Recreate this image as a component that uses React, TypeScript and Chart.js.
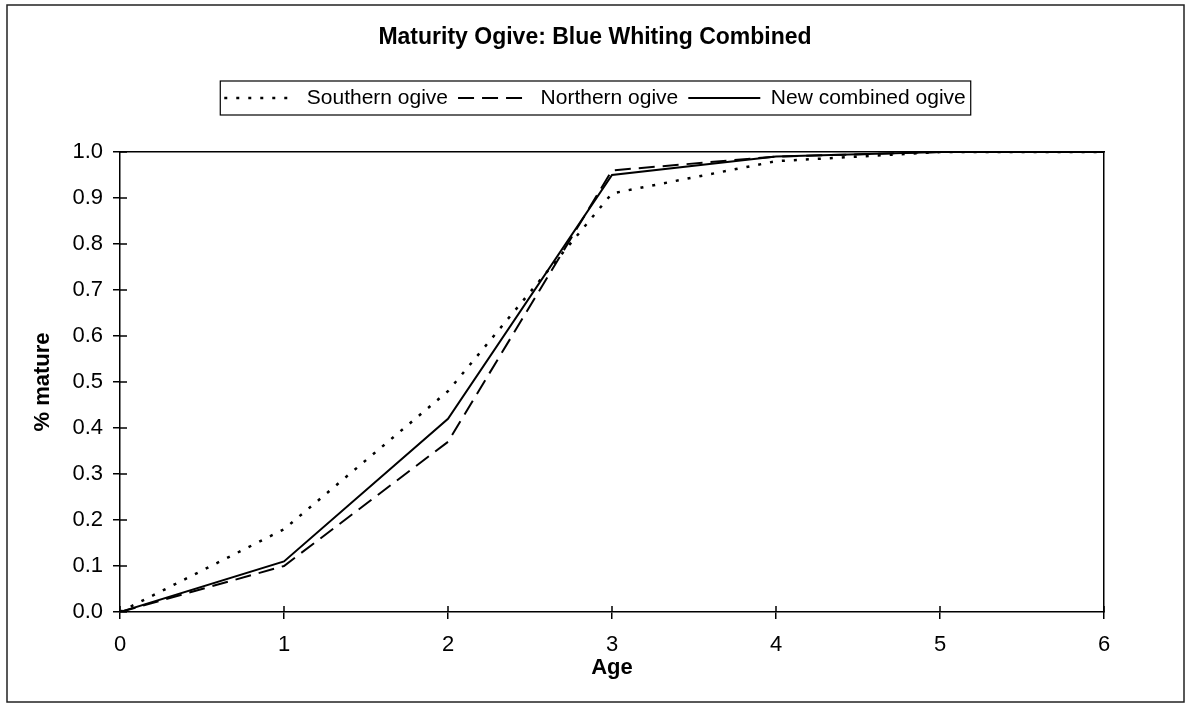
import React, { useEffect, useRef } from "react";
import { Chart, registerables } from "chart.js";

Chart.register(...registerables);

const ages = [0, 1, 2, 3, 4, 5, 6];
const southernOgive = [0, 0.18, 0.48, 0.91, 0.98, 1.0, 1.0];
const northernOgive = [0, 0.1, 0.37, 0.96, 0.99, 1.0, 1.0];
const combinedOgive = [0, 0.11, 0.42, 0.95, 0.99, 1.0, 1.0];
const seriesLabels = ["Southern ogive", "Northern ogive", "New combined ogive"];
const titleText = "Maturity Ogive: Blue Whiting Combined";
const xTitle = "Age";
const yTitle = "% mature";

const FONT = '"Liberation Sans", Arial, Helvetica, sans-serif';

const toPoints = (vals: number[]) => ages.map((a, i) => ({ x: a, y: vals[i] }));

const framePlugin = {
  id: "frame",
  afterDraw(chart: any) {
    const ctx = chart.ctx;
    ctx.save();
    // outer border
    ctx.strokeStyle = "#222";
    ctx.lineWidth = 1.5;
    ctx.setLineDash([]);
    ctx.strokeRect(7, 5, 1177, 697);
    // legend box
    const hb = chart.legend && chart.legend.legendHitBoxes;
    if (hb && hb.length) {
      let l = Infinity, r = -Infinity, t = Infinity, b = -Infinity;
      hb.forEach((h: any) => {
        l = Math.min(l, h.left);
        r = Math.max(r, h.left + h.width);
        t = Math.min(t, h.top);
        b = Math.max(b, h.top + h.height);
      });
      ctx.strokeStyle = "#000";
      ctx.lineWidth = 1.2;
      ctx.strokeRect(l - 4, t - 6.5, r - l + 9, b - t + 13);
    }
    // inner cross ticks
    const xs = chart.scales.x;
    const ys = chart.scales.y;
    const area = chart.chartArea;
    ctx.strokeStyle = "#000";
    ctx.lineWidth = 1.5;
    ctx.beginPath();
    xs.ticks.forEach((tk: any) => {
      const px = xs.getPixelForValue(tk.value);
      ctx.moveTo(px, area.bottom - 6);
      ctx.lineTo(px, area.bottom);
    });
    ys.ticks.forEach((tk: any) => {
      const py = ys.getPixelForValue(tk.value);
      ctx.moveTo(area.left, py);
      ctx.lineTo(area.left + 7, py);
    });
    ctx.stroke();
    ctx.restore();
  },
};

export default function App() {
  const ref = useRef<HTMLCanvasElement | null>(null);

  useEffect(() => {
    if (!ref.current) return;
    Chart.defaults.font.family = FONT;
    Chart.defaults.color = "#000";
    const defaultGen = (Chart.defaults as any).plugins.legend.labels.generateLabels;
    const chart = new Chart(ref.current, {
      type: "line",
      data: {
        datasets: [
          {
            label: seriesLabels[0],
            data: toPoints(southernOgive),
            borderColor: "#000",
            backgroundColor: "#000",
            borderWidth: 2.5,
            borderDash: [3, 9],
            pointRadius: 0,
            tension: 0,
          },
          {
            label: seriesLabels[1],
            data: toPoints(northernOgive),
            borderColor: "#000",
            backgroundColor: "#000",
            borderWidth: 2,
            borderDash: [16, 8],
            pointRadius: 0,
            tension: 0,
          },
          {
            label: seriesLabels[2],
            data: toPoints(combinedOgive),
            borderColor: "#000",
            backgroundColor: "#000",
            borderWidth: 2,
            pointRadius: 0,
            tension: 0,
          },
        ],
      },
      options: {
        animation: false,
        responsive: false,
        events: [],
        layout: { padding: { left: 10, right: 11, top: 10, bottom: 22.8 } },
        plugins: {
          tooltip: { enabled: false },
          title: {
            display: true,
            text: titleText,
            color: "#000",
            font: { size: 23, weight: "bold", family: FONT },
            padding: { top: 14.2, bottom: 25.7 },
          },
          legend: {
            display: true,
            position: "top",
            labels: {
              usePointStyle: true,
              pointStyle: "line",
              pointStyleWidth: 72,
              padding: 10,
              color: "#000",
              font: { size: 21, family: FONT },
              generateLabels: (c: any) => {
                const items = defaultGen(c);
                items.forEach((it: any) => {
                  const ds: any = c.data.datasets[it.datasetIndex];
                  it.lineDash = ds.borderDash || [];
                  it.lineWidth = ds.borderWidth;
                  it.strokeStyle = ds.borderColor;
                  it.fillStyle = "rgba(0,0,0,0)";
                  it.pointStyle = "line";
                });
                return items;
              },
            },
          },
        },
        scales: {
          x: {
            type: "linear",
            position: "bottom",
            min: 0,
            max: 6,
            ticks: {
              stepSize: 1,
              padding: 13,
              color: "#000",
              font: { size: 22, family: FONT },
            },
            grid: {
              drawOnChartArea: false,
              drawTicks: true,
              tickLength: 7,
              color: "#000",
              lineWidth: 1.5,
            },
            border: { display: true, color: "#000", width: 1.5 },
            title: {
              display: true,
              text: xTitle,
              color: "#000",
              font: { size: 22, weight: "bold", family: FONT },
              padding: { top: 0, bottom: 0 },
            },
            afterFit: (s: any) => {
              s.height = 69.2;
            },
          },
          xT: {
            type: "linear",
            position: "top",
            min: 0,
            max: 6,
            ticks: { display: false },
            grid: { display: false },
            border: { display: true, color: "#000", width: 1.5 },
            afterFit: (s: any) => {
              s.height = 33.5;
            },
          },
          y: {
            type: "linear",
            position: "left",
            min: 0,
            max: 1,
            ticks: {
              stepSize: 0.1,
              padding: 10,
              color: "#000",
              font: { size: 22, family: FONT },
              callback: (v: any) => Number(v).toFixed(1),
            },
            grid: {
              drawOnChartArea: false,
              drawTicks: true,
              tickLength: 7,
              color: "#000",
              lineWidth: 1.5,
            },
            border: { display: true, color: "#000", width: 1.5 },
            title: {
              display: true,
              text: yTitle,
              color: "#000",
              font: { size: 22, weight: "bold", family: FONT },
              padding: { top: 19.8, bottom: 0 },
            },
            afterFit: (s: any) => {
              s.width = 110;
            },
          },
          yR: {
            type: "linear",
            position: "right",
            min: 0,
            max: 1,
            ticks: { display: false },
            grid: { display: false },
            border: { display: true, color: "#000", width: 1.5 },
            afterFit: (s: any) => {
              s.width = 76;
            },
          },
        },
      } as any,
      plugins: [framePlugin],
    });
    return () => chart.destroy();
  }, []);

  return (
    <div
      style={{
        position: "fixed",
        left: 0,
        top: 0,
        width: 1191,
        height: 704,
        background: "#fff",
      }}
    >
      <canvas ref={ref} width={1191} height={704} style={{ display: "block" }} />
    </div>
  );
}
